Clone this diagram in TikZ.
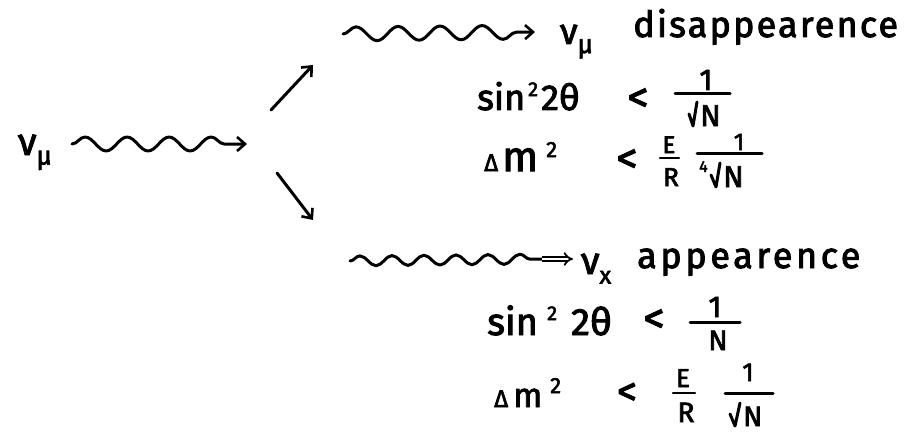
\documentclass[tikz,border=0pt]{standalone}
\usepackage{fontspec}
\setmainfont{Fira Sans}[FakeBold=2.5]
\usetikzlibrary{decorations.pathmorphing,arrows.meta}
\newcommand{\fs}[1]{\fontsize{#1}{#1}\selectfont}
\tikzset{
  ink/.style={line width=3pt,line cap=round,line join=round},
  wave/.style={ink,decorate,decoration={snake,amplitude=#1,segment length=42pt,post length=10pt}},
  barb/.style={-{Straight Barb[length=8pt,width=14pt,line width=2.6pt]}},
  t/.style={inner sep=0pt,anchor=base west,font=\fs{#1}},
  tc/.style={inner sep=0pt,anchor=center,font=\fs{#1}},
  tb/.style={inner sep=0pt,anchor=base,font=\fs{#1}},
}
\begin{document}
\begin{tikzpicture}[x=1pt,y=-1pt]
\useasboundingbox[fill=white] (0,0) rectangle (909,433);
% ---- source
\node[t=38] (numu) at (18,155) {ν\raisebox{-0.25em}{\fs{26}μ}};
\coordinate (w0s) at (72,144);
\coordinate (w0e) at (247,144);
\draw[wave=7pt,barb] (w0s) -- (w0e);
% ---- branch arrows
\coordinate (ua) at (271,110);
\coordinate (ub) at (313,65);
\draw[ink,barb] (ua) -- (ub);
\coordinate (da) at (277,173);
\coordinate (db) at (313,220);
\draw[ink,barb] (da) -- (db);
% ---- top branch
\coordinate (w1s) at (343,34);
\coordinate (w1e) at (535,32);
\draw[wave=7pt,barb] (w1s) -- (w1e);
\node[t=36] (nm1) at (560,44) {ν\raisebox{-0.25em}{\fs{26}μ}};
\node[t=36,font=\fs{36}\addfontfeatures{LetterSpace=6}] (dis) at (633,37) {disappearence};
% sin^2 2theta < 1/sqrt N
\node[t=36] (s1) at (477,110) {sin};
\node[t=20] (p1) at (528,96) {2};
\node[t=36] (th1) at (541,110) {2θ};
\node[tc=42] (lt1) at (638,100) {<};
\coordinate (b1a) at (675,94);
\coordinate (b1b) at (730,94);
\draw[ink] (b1a) -- (b1b);
\node[tb=30] (n1) at (706,90) {1};
\node[t=30] (d1) at (700,126) {N};
\draw[ink] ([xshift=-11pt,yshift=12pt]d1.base west) -- ([xshift=-7pt]d1.base west) -- ([xshift=-3pt,yshift=24pt]d1.base west);
% Delta m^2 < E/R 1/(4th root N)
\node[t=24] (dl1) at (484,171) {Δ};
\node[t=42] (m1) at (502,171) {m};
\node[t=22] (p2) at (546,157) {2};
\node[tc=42] (lt2) at (627,161) {<};
\node[tb=24] (E1) at (669,153) {E};
\coordinate (c1a) at (660,158);
\coordinate (c1b) at (679,158);
\draw[ink,line width=2.2pt] (c1a) -- (c1b);
\node[tb=26] (R1) at (671,186) {R};
\coordinate (b2a) at (697,153);
\coordinate (b2b) at (762,153);
\draw[ink] (b2a) -- (b2b);
\node[tb=24] (n2) at (739,150) {1};
\node[t=16] (q2) at (699,172) {4};
\node[t=30] (d2) at (723,187) {N};
\draw[ink] ([xshift=-12pt,yshift=12pt]d2.base west) -- ([xshift=-7pt]d2.base west) -- ([xshift=-3pt,yshift=24pt]d2.base west);
% ---- bottom branch
\coordinate (w2s) at (350,261);
\coordinate (w2m) at (542,259);
\coordinate (w2e) at (573,259);
\draw[ink,decorate,decoration={snake,amplitude=5pt,segment length=32pt,post length=4pt}] (w2s) -- (w2m);
\draw[line width=1.8pt,double distance=2.6pt,-{Implies[length=6pt]}] (w2m) -- (w2e);
\node[t=38] (nx) at (581,274) {ν\raisebox{-0.25em}{\fs{24}x}};
\node[t=36,font=\fs{36}\addfontfeatures{LetterSpace=10}] (app) at (637,268) {appearence};
% sin^2 2theta < 1/N
\node[t=38] (s2) at (487,335) {sin};
\node[t=20] (p3) at (547,320) {2};
\node[t=38] (th2) at (571,335) {2θ};
\node[tc=42] (lt3) at (654,321) {<};
\coordinate (b3a) at (690,322);
\coordinate (b3b) at (740,322);
\draw[ink] (b3a) -- (b3b);
\node[tb=30] (n3) at (715,317) {1};
\node[tb=28] (d3) at (718,350) {N};
% Delta m^2 < E/R 1/sqrt N
\node[t=24] (dl2) at (494,407) {Δ};
\node[t=34] (m2) at (513,407) {m};
\node[t=22] (p4) at (550,393) {2};
\node[tc=40] (lt4) at (627,394) {<};
\node[tb=26] (E2) at (683,387) {E};
\coordinate (c2a) at (673,393);
\coordinate (c2b) at (695,393);
\draw[ink,line width=2.2pt] (c2a) -- (c2b);
\node[tb=28] (R2) at (686,422) {R};
\coordinate (b4a) at (725,393);
\coordinate (b4b) at (773,393);
\draw[ink] (b4a) -- (b4b);
\node[tb=26] (n4) at (748,381) {1};
\node[t=28] (d4) at (743,426) {N};
\draw[ink] ([xshift=-13pt,yshift=12pt]d4.base west) -- ([xshift=-8pt]d4.base west) -- ([xshift=-3pt,yshift=23pt]d4.base west);
\end{tikzpicture}
\end{document}
